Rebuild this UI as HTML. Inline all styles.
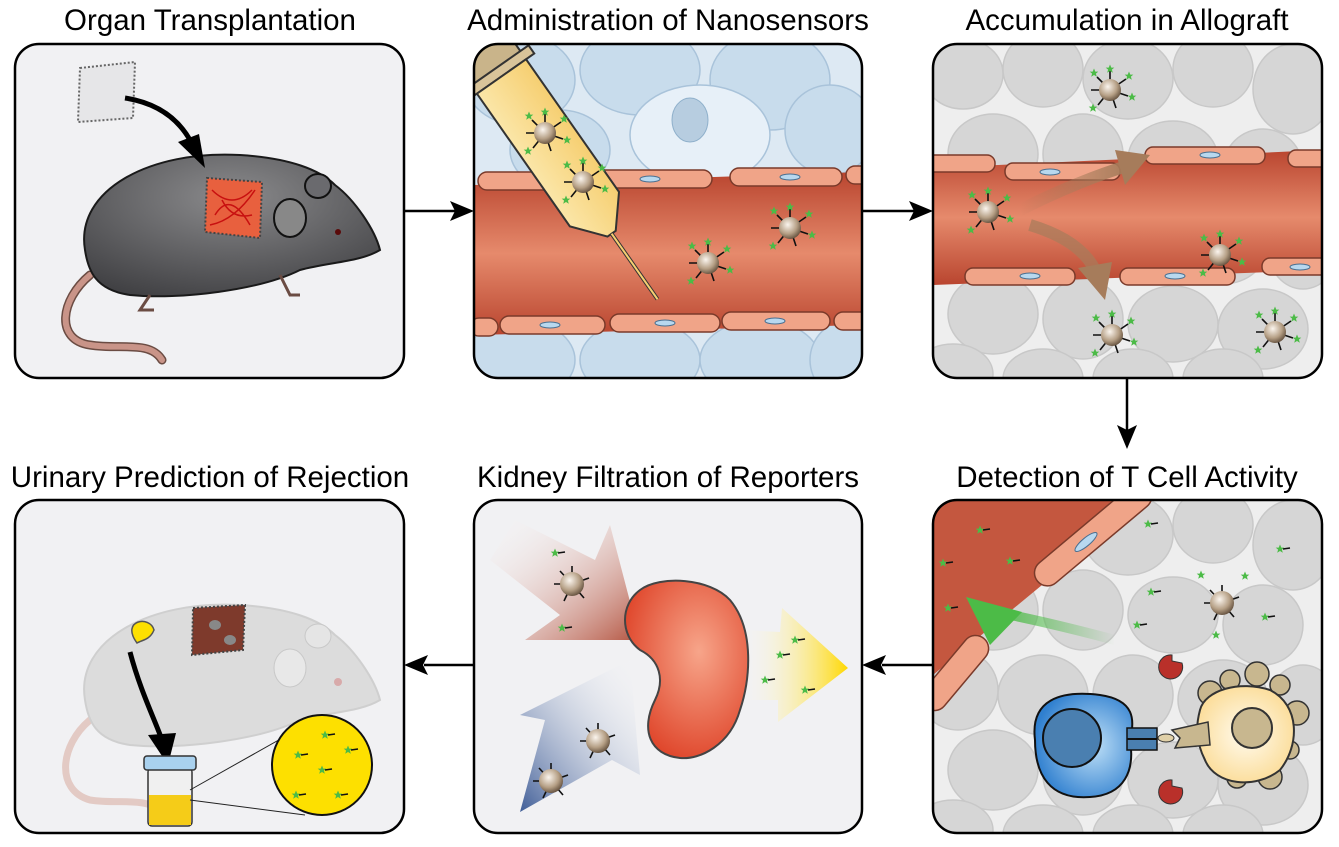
<!DOCTYPE html>
<html><head><meta charset="utf-8"><style>
html,body{margin:0;padding:0;background:#fff;}
svg{display:block;}
text{font-family:"Liberation Sans",Arial,sans-serif;font-size:29.5px;fill:#000;}
</style></head><body>
<svg width="1339" height="847" viewBox="0 0 1339 847" xmlns="http://www.w3.org/2000/svg">
<defs>
<radialGradient id="np" cx="0.4" cy="0.35" r="0.7"><stop offset="0" stop-color="#fbf5ee"/><stop offset="0.6" stop-color="#b59f85"/><stop offset="1" stop-color="#5d4a38"/></radialGradient>
<linearGradient id="ves" x1="0" y1="0" x2="0" y2="1"><stop offset="0" stop-color="#b9452f"/><stop offset="0.5" stop-color="#e68a6c"/><stop offset="1" stop-color="#b9452f"/></linearGradient>
<radialGradient id="mouse" cx="0.5" cy="0.3" r="0.8"><stop offset="0" stop-color="#8a8a8c"/><stop offset="1" stop-color="#3d3d40"/></radialGradient>
<radialGradient id="tc" cx="0.6" cy="0.5" r="0.6"><stop offset="0" stop-color="#bfe0f7"/><stop offset="1" stop-color="#2f7fcf"/></radialGradient>
<radialGradient id="apc" cx="0.5" cy="0.5" r="0.6"><stop offset="0" stop-color="#fffbef"/><stop offset="1" stop-color="#fbd98f"/></radialGradient>
<radialGradient id="kid" cx="0.6" cy="0.4" r="0.7"><stop offset="0" stop-color="#f7a58a"/><stop offset="1" stop-color="#dd3d22"/></radialGradient>
<linearGradient id="redarr" x1="0" y1="0" x2="1" y2="1"><stop offset="0" stop-color="#fff" stop-opacity="0"/><stop offset="1" stop-color="#b4533f"/></linearGradient>
<linearGradient id="bluearr" x1="1" y1="0" x2="0" y2="1"><stop offset="0" stop-color="#fff" stop-opacity="0"/><stop offset="1" stop-color="#3f5d97"/></linearGradient>
<linearGradient id="yelarr" x1="0" y1="0" x2="1" y2="0"><stop offset="0" stop-color="#fff" stop-opacity="0"/><stop offset="1" stop-color="#ffd800"/></linearGradient>
<linearGradient id="grarr" x1="1" y1="0" x2="0" y2="0"><stop offset="0" stop-color="#4cbb47" stop-opacity="0"/><stop offset="1" stop-color="#4cbb47"/></linearGradient>
<linearGradient id="brarr" x1="0" y1="0" x2="1" y2="0"><stop offset="0" stop-color="#a67c5b" stop-opacity="0"/><stop offset="1" stop-color="#a67c5b"/></linearGradient>
<linearGradient id="syr" x1="0" y1="0" x2="1" y2="0"><stop offset="0" stop-color="#fbe6a8"/><stop offset="1" stop-color="#f6cf72"/></linearGradient>
<symbol id="star" viewBox="-5 -5 10 10" overflow="visible"><polygon points="0,-4.5 1.3,-1.4 4.3,-1.4 1.9,0.6 2.8,3.8 0,2 -2.8,3.8 -1.9,0.6 -4.3,-1.4 -1.3,-1.4" fill="#4cbb47"/></symbol>
<g id="nano">
 <g stroke="#111" stroke-width="1.6">
  <line x1="0" y1="0" x2="0" y2="-19"/><line x1="0" y1="0" x2="16" y2="-11"/><line x1="0" y1="0" x2="18" y2="6"/><line x1="0" y1="0" x2="6" y2="18"/><line x1="0" y1="0" x2="-12" y2="15"/><line x1="0" y1="0" x2="-19" y2="0"/><line x1="0" y1="0" x2="-13" y2="-13"/>
 </g>
 <use href="#star" x="-5" y="-26" width="10" height="10"/><use href="#star" x="14" y="-19" width="10" height="10"/><use href="#star" x="17" y="2" width="10" height="10"/><use href="#star" x="-22" y="13" width="10" height="10"/><use href="#star" x="-21" y="-22" width="10" height="10"/>
 <circle r="11" fill="url(#np)"/>
</g>
<g id="nano2">
 <g stroke="#111" stroke-width="1.6"><line x1="0" y1="0" x2="0" y2="-18"/><line x1="0" y1="0" x2="17" y2="-6"/><line x1="0" y1="0" x2="12" y2="14"/><line x1="0" y1="0" x2="-8" y2="17"/><line x1="0" y1="0" x2="-18" y2="0"/><line x1="0" y1="0" x2="-12" y2="-13"/></g>
 <circle r="12" fill="url(#np)"/>
</g>
<g id="frag"><use href="#star" x="-5" y="-5" width="10" height="10"/><line x1="3" y1="0" x2="10" y2="-1" stroke="#111" stroke-width="1.6"/></g>
<clipPath id="c1"><rect x="15" y="44" width="389" height="334" rx="24"/></clipPath>
<clipPath id="c2"><rect x="474" y="44" width="388" height="334" rx="24"/></clipPath>
<clipPath id="c3"><rect x="933" y="44" width="389" height="334" rx="24"/></clipPath>
<clipPath id="c4"><rect x="15" y="500" width="389" height="333" rx="24"/></clipPath>
<clipPath id="c5"><rect x="474" y="500" width="388" height="333" rx="24"/></clipPath>
<clipPath id="c6"><rect x="933" y="500" width="389" height="333" rx="24"/></clipPath>
<g id="graycells">
 <rect x="0" y="0" width="390" height="335" fill="#eeeeee"/>
 <g fill="#d6d6d6" stroke="#c8c8c8" stroke-width="1.5">
  <ellipse cx="30" cy="30" rx="40" ry="35"/><ellipse cx="110" cy="25" rx="40" ry="38"/><ellipse cx="195" cy="35" rx="45" ry="40"/><ellipse cx="280" cy="25" rx="40" ry="38"/><ellipse cx="360" cy="45" rx="40" ry="45"/>
  <ellipse cx="60" cy="110" rx="45" ry="40"/><ellipse cx="150" cy="110" rx="40" ry="40"/><ellipse cx="240" cy="115" rx="45" ry="38"/><ellipse cx="330" cy="125" rx="40" ry="40"/>
  <ellipse cx="25" cy="190" rx="40" ry="40"/><ellipse cx="110" cy="195" rx="45" ry="40"/><ellipse cx="200" cy="195" rx="40" ry="40"/><ellipse cx="290" cy="200" rx="45" ry="40"/><ellipse cx="370" cy="205" rx="35" ry="40"/>
  <ellipse cx="60" cy="270" rx="45" ry="40"/><ellipse cx="150" cy="275" rx="40" ry="40"/><ellipse cx="240" cy="280" rx="45" ry="38"/><ellipse cx="330" cy="285" rx="45" ry="40"/>
  <ellipse cx="20" cy="330" rx="40" ry="30"/><ellipse cx="110" cy="335" rx="40" ry="30"/><ellipse cx="200" cy="335" rx="40" ry="30"/><ellipse cx="290" cy="335" rx="40" ry="30"/>
 </g>
</g>
</defs>

<!-- titles -->
<text x="210" y="30" text-anchor="middle">Organ Transplantation</text>
<text x="668" y="30" text-anchor="middle">Administration of Nanosensors</text>
<text x="1127" y="30" text-anchor="middle">Accumulation in Allograft</text>
<text x="210" y="487" text-anchor="middle">Urinary Prediction of Rejection</text>
<text x="668" y="487" text-anchor="middle">Kidney Filtration of Reporters</text>
<text x="1127" y="487" text-anchor="middle">Detection of T Cell Activity</text>

<!-- connectors -->
<g stroke="#000" stroke-width="2.5" fill="#000">
 <line x1="404" y1="211" x2="455" y2="211"/><polygon points="474,211 450,201 455,211 450,221" stroke="none"/>
 <line x1="862" y1="211" x2="914" y2="211"/><polygon points="933,211 909,201 914,211 909,221" stroke="none"/>
 <line x1="1127" y1="378" x2="1127" y2="430"/><polygon points="1127,449 1117,425 1127,430 1137,425" stroke="none"/>
 <line x1="933" y1="665" x2="882" y2="665"/><polygon points="862,665 886,655 881,665 886,675" stroke="none"/>
 <line x1="474" y1="665" x2="424" y2="665"/><polygon points="404,665 428,655 423,665 428,675" stroke="none"/>
</g>

<!-- Panel 1 -->
<g clip-path="url(#c1)">
 <rect x="15" y="44" width="389" height="334" fill="#f1f1f3"/>
 <path d="M90 275 C60 300 55 340 90 345 C120 350 150 340 162 360" fill="none" stroke="#6b4c43" stroke-width="9" stroke-linecap="round"/>
 <path d="M90 275 C60 300 55 340 90 345 C120 350 150 340 162 360" fill="none" stroke="#c99488" stroke-width="6" stroke-linecap="round"/>
 <path d="M85 250 C75 190 150 150 240 155 C290 158 320 170 335 185 C355 200 375 230 380 250 C360 262 330 262 300 270 C260 290 180 300 130 295 C95 290 88 270 85 250 Z" fill="url(#mouse)" stroke="#1a1a1a" stroke-width="2"/>
 <ellipse cx="318" cy="186" rx="13" ry="12" fill="#6a6a6e" stroke="#111" stroke-width="2"/>
 <ellipse cx="290" cy="218" rx="16" ry="19" fill="#888" stroke="#111" stroke-width="2"/>
 <circle cx="338" cy="232" r="3" fill="#5a0a0a"/>
 <path d="M150 295 l-10 15 h14 M280 275 l10 20 h10" fill="none" stroke="#6b4c43" stroke-width="3"/>
 <path d="M207 178 L262 182 L260 238 L205 232 Z" fill="#e8603e" stroke="#444" stroke-dasharray="2 2" stroke-width="2"/>
 <path d="M212 190 q20 20 40 0 M215 215 q15 -25 35 10 M222 200 q10 20 30 15 M210 225 q25 -5 45 -35" fill="none" stroke="#c81010" stroke-width="1.5"/>
 <path d="M80 68 L135 62 L133 118 L78 122 Z" fill="#e6e6e8" stroke="#666" stroke-dasharray="2 2" stroke-width="2"/>
 <path d="M125 98 Q170 105 190 140" fill="none" stroke="#000" stroke-width="5"/>
 <polygon points="205,168 178,142 199,134" fill="#000"/>
</g>
<rect x="15" y="44" width="389" height="334" rx="24" fill="none" stroke="#000" stroke-width="2.5"/>

<!-- Panel 2 -->
<g clip-path="url(#c2)">
 <rect x="474" y="44" width="388" height="334" fill="#dde9f3"/>
 <g fill="#c8dcec" stroke="#a9c3da" stroke-width="1.5">
  <ellipse cx="520" cy="80" rx="55" ry="45"/><ellipse cx="640" cy="70" rx="60" ry="45"/><ellipse cx="770" cy="80" rx="60" ry="50"/><ellipse cx="700" cy="135" rx="70" ry="50" fill="#e7f0f8"/><ellipse cx="830" cy="130" rx="45" ry="45"/><ellipse cx="560" cy="150" rx="50" ry="40"/>
  <ellipse cx="520" cy="360" rx="55" ry="40"/><ellipse cx="640" cy="360" rx="60" ry="40"/><ellipse cx="760" cy="360" rx="60" ry="40"/><ellipse cx="850" cy="360" rx="40" ry="40"/>
 </g>
 <ellipse cx="690" cy="120" rx="18" ry="22" fill="#b7cde0" stroke="#8fb0cb"/>
 <path d="M474 185 L862 172 L862 325 L474 335 Z" fill="url(#ves)"/>
 <g fill="#f0a488" stroke="#7a3a2a" stroke-width="1.5">
  <rect x="478" y="172" width="110" height="18" rx="9"/><rect x="592" y="170" width="120" height="18" rx="9"/><rect x="730" y="168" width="112" height="18" rx="9"/><rect x="846" y="166" width="30" height="18" rx="9"/>
  <rect x="470" y="318" width="28" height="18" rx="9"/><rect x="500" y="316" width="105" height="18" rx="9"/><rect x="610" y="314" width="110" height="18" rx="9"/><rect x="722" y="312" width="108" height="18" rx="9"/><rect x="834" y="312" width="40" height="18" rx="9"/>
 </g>
 <g fill="#b8d8ef" stroke="#4a6f90" stroke-width="1"><ellipse cx="650" cy="179" rx="10" ry="3"/><ellipse cx="790" cy="177" rx="10" ry="3"/><ellipse cx="550" cy="325" rx="10" ry="3"/><ellipse cx="665" cy="323" rx="10" ry="3"/><ellipse cx="775" cy="321" rx="10" ry="3"/></g>
 <g transform="rotate(-35 560 160)">
  <rect x="530" y="20" width="60" height="30" fill="#c9b48a" stroke="#333" stroke-width="2"/>
  <rect x="520" y="48" width="80" height="10" fill="#d9c49a" stroke="#333" stroke-width="2"/>
  <path d="M530 58 L590 58 L590 220 L565 250 L555 250 L530 220 Z" fill="url(#syr)" stroke="#333" stroke-width="2"/>
  <line x1="560" y1="250" x2="560" y2="330" stroke="#333" stroke-width="4"/>
  <line x1="560" y1="250" x2="560" y2="330" stroke="#f6cf72" stroke-width="2"/>
 </g>
 <use href="#nano" x="545" y="133"/><use href="#nano" x="583" y="182"/><use href="#nano" x="708" y="263"/><use href="#nano" x="790" y="228"/>
</g>
<rect x="474" y="44" width="388" height="334" rx="24" fill="none" stroke="#000" stroke-width="2.5"/>

<!-- Panel 3 -->
<g clip-path="url(#c3)">
 <use href="#graycells" x="933" y="44"/>
 <path d="M933 168 L1322 150 L1322 270 L933 285 Z" fill="url(#ves)"/>
 <g fill="#f0a488" stroke="#7a3a2a" stroke-width="1.5">
  <rect x="925" y="155" width="70" height="17" rx="8"/><rect x="1005" y="163" width="115" height="17" rx="8"/><rect x="1145" y="147" width="120" height="17" rx="8"/><rect x="1288" y="150" width="40" height="17" rx="8"/>
  <rect x="965" y="268" width="110" height="17" rx="8"/><rect x="1120" y="268" width="115" height="17" rx="8"/><rect x="1262" y="258" width="70" height="17" rx="8"/>
 </g>
 <g fill="#b8d8ef" stroke="#4a6f90"><ellipse cx="1050" cy="172" rx="10" ry="3"/><ellipse cx="1210" cy="155" rx="10" ry="3"/><ellipse cx="1030" cy="276" rx="10" ry="3"/><ellipse cx="1175" cy="276" rx="10" ry="3"/><ellipse cx="1300" cy="267" rx="10" ry="3"/></g>
 <path d="M1020 210 Q1080 180 1130 165" fill="none" stroke="url(#brarr)" stroke-width="12"/>
 <polygon points="1150,155 1115,150 1125,185" fill="#a67c5b"/>
 <path d="M1030 225 Q1080 240 1095 270" fill="none" stroke="#a67c5b" stroke-opacity="0.7" stroke-width="12"/>
 <polygon points="1105,300 1078,268 1112,262" fill="#a67c5b"/>
 <use href="#nano" x="988" y="212"/><use href="#nano" x="1110" y="90"/><use href="#nano" x="1220" y="255"/><use href="#nano" x="1112" y="335"/><use href="#nano" x="1275" y="332"/>
</g>
<rect x="933" y="44" width="389" height="334" rx="24" fill="none" stroke="#000" stroke-width="2.5"/>

<!-- Panel 6 -->
<g clip-path="url(#c6)">
 <use href="#graycells" x="933" y="500"/>
 <path d="M933 500 L1145 500 L933 675 Z" fill="#c4573f"/>
 <g fill="#f0a488" stroke="#7a3a2a" stroke-width="1.5">
  <rect x="1020" y="520" width="145" height="26" rx="13" transform="rotate(-40 1095 533)"/>
  <rect x="910" y="660" width="90" height="26" rx="13" transform="rotate(-50 955 673)"/>
 </g>
 <ellipse cx="1086" cy="542" rx="14" ry="4" fill="#b8d8ef" stroke="#4a6f90" transform="rotate(-40 1086 542)"/>
 <path d="M1115 640 Q1040 620 985 610" fill="none" stroke="url(#grarr)" stroke-width="10"/>
 <polygon points="966,597 1022,612 990,645" fill="#4cbb47"/>
 <use href="#frag" x="980" y="530"/><use href="#frag" x="1010" y="561"/><use href="#frag" x="943" y="563"/><use href="#frag" x="948" y="608"/><use href="#frag" x="1148" y="524"/><use href="#frag" x="1280" y="549"/><use href="#frag" x="1151" y="592"/><use href="#frag" x="1137" y="625"/><use href="#frag" x="1265" y="617"/>
 <use href="#star" x="1196" y="570" width="10" height="10"/>
 <use href="#nano2" x="1222" y="603"/>
 <use href="#star" x="1240" y="571" width="10" height="10"/><use href="#star" x="1211" y="630" width="10" height="10"/>
 <path d="M1172 655 a12 12 0 1 0 10 8 l-10 -2 z" fill="#b9302a" stroke="#333"/>
 <path d="M1172 780 a12 12 0 1 0 10 8 l-10 -2 z" fill="#b9302a" stroke="#333"/>
 <path d="M1035 740 C1030 700 1060 690 1100 695 C1135 700 1135 720 1130 740 C1135 770 1125 795 1090 797 C1050 800 1035 775 1035 740 Z" fill="url(#tc)" stroke="#111" stroke-width="2"/>
 <circle cx="1072" cy="738" r="29" fill="#4a7fb0" stroke="#111" stroke-width="2"/>
 <rect x="1127" y="728" width="30" height="22" fill="#4a7fb0" stroke="#111" stroke-width="1.5"/>
 <line x1="1127" y1="739" x2="1157" y2="739" stroke="#111" stroke-width="2"/>
 <ellipse cx="1166" cy="738" rx="8" ry="4" fill="#e0d0a8" stroke="#333"/>
 <g fill="#c8b78f" stroke="#333" stroke-width="1.5">
  <circle cx="1210" cy="693" r="12"/><circle cx="1230" cy="680" r="10"/><circle cx="1257" cy="674" r="12"/><circle cx="1280" cy="685" r="10"/><circle cx="1297" cy="713" r="12"/><circle cx="1290" cy="750" r="9"/><circle cx="1270" cy="777" r="12"/><circle cx="1237" cy="778" r="10"/>
 </g>
 <path d="M1200 710 C1205 690 1240 680 1270 690 C1300 705 1300 745 1280 770 C1255 790 1215 785 1205 760 C1195 740 1196 725 1200 710 Z" fill="url(#apc)" stroke="#333" stroke-width="2"/>
 <circle cx="1252" cy="728" r="20" fill="#c8b78f" stroke="#333" stroke-width="2"/>
 <polygon points="1172,730 1208,722 1210,745 1175,748 1180,738" fill="#c8b78f" stroke="#333" stroke-width="1.5"/>
</g>
<rect x="933" y="500" width="389" height="333" rx="24" fill="none" stroke="#000" stroke-width="2.5"/>

<!-- Panel 5 -->
<g clip-path="url(#c5)">
 <rect x="474" y="500" width="388" height="333" fill="#f1f1f3"/>
 <polygon points="515,520 595,560 610,525 640,640 525,640 560,615 490,560" fill="url(#redarr)"/>
 <polygon points="520,812 545,720 520,715 630,660 640,775 612,760 520,812" fill="url(#bluearr)"/>
 <polygon points="740,630 780,632 782,608 848,668 778,722 778,700 740,700" fill="url(#yelarr)"/>
 <path d="M640 590 C660 575 710 578 730 600 C755 630 750 680 740 710 C730 745 700 760 680 758 C650 755 640 730 655 700 C665 680 660 660 640 650 C620 635 620 605 640 590 Z" fill="url(#kid)" stroke="#444" stroke-width="2"/>
 <use href="#nano2" x="572" y="584"/><use href="#nano2" x="598" y="741"/><use href="#nano2" x="551" y="781"/>
 <use href="#frag" x="555" y="553"/><use href="#frag" x="562" y="628"/><use href="#frag" x="780" y="655"/><use href="#frag" x="765" y="680"/><use href="#frag" x="805" y="690"/><use href="#frag" x="795" y="640"/>
</g>
<rect x="474" y="500" width="388" height="333" rx="24" fill="none" stroke="#000" stroke-width="2.5"/>

<!-- Panel 4 -->
<g clip-path="url(#c4)">
 <rect x="15" y="500" width="389" height="333" fill="#f1f1f3"/>
 <path d="M90 720 C60 745 55 790 90 800 C120 805 150 795 162 815" fill="none" stroke="#e3cac4" stroke-width="7" stroke-linecap="round"/>
 <path d="M85 700 C75 640 150 600 240 605 C290 608 320 620 335 635 C355 650 375 680 380 700 C360 712 330 712 300 720 C260 740 180 750 130 745 C95 740 88 720 85 700 Z" fill="#dcdcdc" stroke="#cfcfcf" stroke-width="2"/>
 <ellipse cx="318" cy="636" rx="13" ry="12" fill="#e5e5e5" stroke="#c8c8c8"/>
 <ellipse cx="290" cy="668" rx="16" ry="19" fill="#e8e8e8" stroke="#c8c8c8"/>
 <circle cx="338" cy="682" r="4" fill="#d8aaaa"/>
 <path d="M193 608 L245 605 L243 650 L192 655 Z" fill="#7e3a2c" stroke="#444" stroke-dasharray="2 2" stroke-width="2"/>
 <ellipse cx="215" cy="625" rx="6" ry="5" fill="#888"/><ellipse cx="230" cy="640" rx="6" ry="5" fill="#888"/>
 <path d="M137 643 C120 620 150 615 154 630 C150 640 142 640 137 643 Z" fill="#fde000" stroke="#555" stroke-width="1.5"/>
 <path d="M130 652 C140 690 155 720 162 740" fill="none" stroke="#000" stroke-width="5"/>
 <polygon points="168,765 148,735 176,733" fill="#000"/>
 <rect x="148" y="768" width="44" height="58" rx="4" fill="#f0f0f0" stroke="#333" stroke-width="1.5"/>
 <rect x="149" y="795" width="42" height="30" fill="#f5cc18"/>
 <rect x="144" y="756" width="52" height="14" rx="3" fill="#a9d1ee" stroke="#333" stroke-width="1.5"/>
 <line x1="190" y1="790" x2="300" y2="728" stroke="#222"/><line x1="190" y1="800" x2="305" y2="815" stroke="#222"/>
 <circle cx="322" cy="765" r="50" fill="#fde000" stroke="#111" stroke-width="2"/>
 <use href="#frag" x="298" y="755"/><use href="#frag" x="322" y="770"/><use href="#frag" x="348" y="750"/><use href="#frag" x="338" y="795"/><use href="#frag" x="296" y="795"/><use href="#frag" x="325" y="735"/>
</g>
<rect x="15" y="500" width="389" height="333" rx="24" fill="none" stroke="#000" stroke-width="2.5"/>
</svg>
</body></html>
